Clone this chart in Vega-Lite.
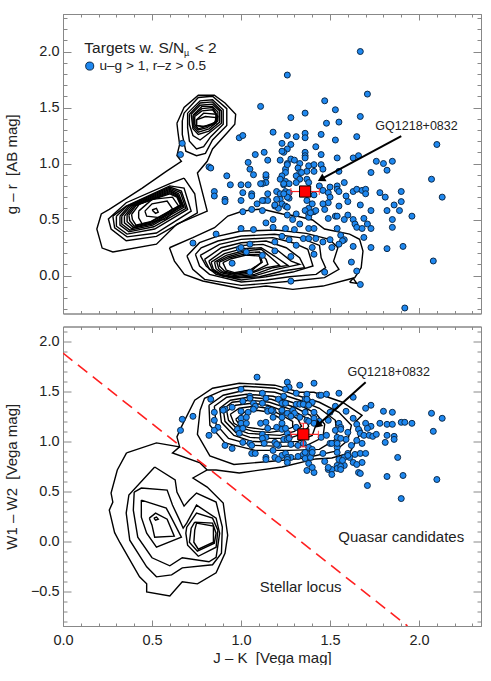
{"$schema":"https://vega.github.io/schema/vega-lite/v6.json","padding":{"left":4,"top":13,"right":0,"bottom":0},"spacing":11.5,"config":{"view":{"stroke":null},"font":"Liberation Sans","axis":{"grid":false,"domainColor":"#888888","tickColor":"#888888","domainWidth":1,"tickWidth":1,"labelFont":"Liberation Sans","titleFont":"Liberation Sans","labelFontSize":14.5,"titleFontSize":15,"labelColor":"#222222","titleColor":"#222222","titleFontWeight":"normal","labelOverlap":false,"labelFlush":false}},
"datasets":{
"topPts":[{"x":1.11,"y":1.51},{"x":1.18,"y":1.28},{"x":0.99,"y":1.23},{"x":1.01,"y":1.25},{"x":0.67,"y":1.18},{"x":0.66,"y":1.08},{"x":1.13,"y":1.10},{"x":1.08,"y":1.08},{"x":1.15,"y":1.03},{"x":1.04,"y":1.01},{"x":1.22,"y":1.03},{"x":1.05,"y":0.95},{"x":0.82,"y":0.97},{"x":0.83,"y":0.96},{"x":1.26,"y":1.79},{"x":1.67,"y":2.0},{"x":1.71,"y":1.62},{"x":1.47,"y":1.56},{"x":1.53,"y":1.48},{"x":1.36,"y":1.45},{"x":1.28,"y":1.41},{"x":1.67,"y":1.42},{"x":1.48,"y":1.36},{"x":1.55,"y":1.37},{"x":1.26,"y":1.25},{"x":1.31,"y":1.24},{"x":1.36,"y":1.27},{"x":1.36,"y":1.23},{"x":1.45,"y":1.26},{"x":1.65,"y":1.24},{"x":1.53,"y":1.21},{"x":1.23,"y":1.18},{"x":1.28,"y":1.17},{"x":2.10,"y":1.17},{"x":1.42,"y":1.15},{"x":1.26,"y":1.13},{"x":1.24,"y":1.10},{"x":1.36,"y":1.10},{"x":1.36,"y":1.07},{"x":1.45,"y":1.08},{"x":1.54,"y":1.05},{"x":1.63,"y":1.05},{"x":1.66,"y":1.07},{"x":1.28,"y":1.04},{"x":1.30,"y":1.03},{"x":1.36,"y":1.05},{"x":1.76,"y":1.02},{"x":1.80,"y":1.00},{"x":1.85,"y":1.02},{"x":1.26,"y":1.00},{"x":1.33,"y":1.00},{"x":1.38,"y":0.98},{"x":1.41,"y":0.99},{"x":1.45,"y":0.99},{"x":1.82,"y":0.94},{"x":1.73,"y":0.92},{"x":1.25,"y":0.95},{"x":1.32,"y":0.96},{"x":1.33,"y":0.92},{"x":1.37,"y":0.93},{"x":1.41,"y":0.93},{"x":1.46,"y":0.95},{"x":1.55,"y":0.93},{"x":1.25,"y":0.92},{"x":1.23,"y":0.89},{"x":1.14,"y":0.88},{"x":1.31,"y":0.89},{"x":1.33,"y":0.86},{"x":1.37,"y":0.86},{"x":1.22,"y":0.86},{"x":1.25,"y":0.84},{"x":1.14,"y":0.83},{"x":1.12,"y":0.82},{"x":1.27,"y":0.82},{"x":1.31,"y":0.83},{"x":1.38,"y":0.83},{"x":1.58,"y":0.83},{"x":2.07,"y":0.86},{"x":1.44,"y":0.80},{"x":1.50,"y":0.79},{"x":1.54,"y":0.80},{"x":1.54,"y":0.77},{"x":1.24,"y":0.81},{"x":1.20,"y":0.75},{"x":1.25,"y":0.75},{"x":1.46,"y":0.76},{"x":1.55,"y":0.75},{"x":1.63,"y":0.75},{"x":1.65,"y":0.77},{"x":1.68,"y":0.76},{"x":1.70,"y":0.77},{"x":1.70,"y":0.73},{"x":1.78,"y":0.74},{"x":1.81,"y":0.70},{"x":1.90,"y":0.75},{"x":1.49,"y":0.74},{"x":1.50,"y":0.70},{"x":1.59,"y":0.71},{"x":2.13,"y":0.70},{"x":1.41,"y":0.72},{"x":1.15,"y":0.73},{"x":1.22,"y":0.73},{"x":1.27,"y":0.74},{"x":1.27,"y":0.69},{"x":1.13,"y":0.67},{"x":1.15,"y":0.67},{"x":1.22,"y":0.68},{"x":1.37,"y":0.67},{"x":1.49,"y":0.65},{"x":1.46,"y":0.64},{"x":1.60,"y":0.66},{"x":1.67,"y":0.63},{"x":1.90,"y":0.66},{"x":1.86,"y":0.63},{"x":1.55,"y":0.62},{"x":1.19,"y":0.62},{"x":1.23,"y":0.64},{"x":1.21,"y":0.60},{"x":1.25,"y":0.62},{"x":1.38,"y":0.60},{"x":1.41,"y":0.57},{"x":1.36,"y":0.58},{"x":1.47,"y":0.59},{"x":1.73,"y":0.58},{"x":1.82,"y":0.58},{"x":1.89,"y":0.58},{"x":1.12,"y":0.58},{"x":1.26,"y":0.54},{"x":1.31,"y":0.55},{"x":1.40,"y":0.64},{"x":1.38,"y":0.55},{"x":1.38,"y":0.52},{"x":1.49,"y":0.51},{"x":1.53,"y":0.53},{"x":1.54,"y":0.53},{"x":1.60,"y":0.54},{"x":1.58,"y":0.50},{"x":1.69,"y":0.51},{"x":1.85,"y":0.50},{"x":1.96,"y":0.53},{"x":1.18,"y":0.50},{"x":1.29,"y":0.50},{"x":1.14,"y":0.47},{"x":1.33,"y":0.46},{"x":1.63,"y":0.50},{"x":1.64,"y":0.46},{"x":1.65,"y":0.43},{"x":1.68,"y":0.42},{"x":1.71,"y":0.46},{"x":1.73,"y":0.42},{"x":1.54,"y":0.42},{"x":1.85,"y":0.43},{"x":1.18,"y":0.43},{"x":1.38,"y":0.42},{"x":1.41,"y":0.42},{"x":1.25,"y":0.42},{"x":1.30,"y":0.41},{"x":1.56,"y":0.36},{"x":1.69,"y":0.34},{"x":1.23,"y":0.35},{"x":1.19,"y":0.30},{"x":1.27,"y":0.32},{"x":1.35,"y":0.33},{"x":1.38,"y":0.33},{"x":1.42,"y":0.33},{"x":1.46,"y":0.30},{"x":1.50,"y":0.32},{"x":1.58,"y":0.32},{"x":1.57,"y":0.31},{"x":1.55,"y":0.28},{"x":1.63,"y":0.26},{"x":1.31,"y":0.27},{"x":1.40,"y":0.25},{"x":1.51,"y":0.25},{"x":1.73,"y":0.25},{"x":1.82,"y":0.24},{"x":1.91,"y":0.26},{"x":1.19,"y":0.22},{"x":1.12,"y":0.18},{"x":1.28,"y":0.17},{"x":1.41,"y":0.19},{"x":1.62,"y":0.12},{"x":2.08,"y":0.13},{"x":1.65,"y":0.04},{"x":1.47,"y":0.03},{"x":1.28,"y":-0.05},{"x":1.67,"y":-0.08},{"x":1.92,"y":-0.29},{"x":1.07,"y":0.90},{"x":0.92,"y":0.89},{"x":1.11,"y":0.82},{"x":0.94,"y":0.81},{"x":1.00,"y":0.81},{"x":1.04,"y":0.81},{"x":0.85,"y":0.75},{"x":0.85,"y":0.71},{"x":0.91,"y":0.68},{"x":0.91,"y":0.66},{"x":1.01,"y":0.74},{"x":1.06,"y":0.73},{"x":1.06,"y":0.71},{"x":1.00,"y":0.67},{"x":1.12,"y":0.67},{"x":1.09,"y":0.64},{"x":1.01,"y":0.57},{"x":1.06,"y":0.59},{"x":1.00,"y":0.42},{"x":1.07,"y":0.41},{"x":0.86,"y":0.37},{"x":0.73,"y":0.29},{"x":1.05,"y":0.28},{"x":0.99,"y":0.24},{"x":1.00,"y":0.25},{"x":1.03,"y":0.21},{"x":0.95,"y":0.11},{"x":1.05,"y":0.03},{"x":1.23,"y":1.11},{"x":1.26,"y":0.99},{"x":1.14,"y":0.90},{"x":1.24,"y":0.82},{"x":1.34,"y":0.92},{"x":1.20,"y":0.68},{"x":1.19,"y":0.63},{"x":1.26,"y":0.61},{"x":1.42,"y":0.58},{"x":1.39,"y":0.56},{"x":1.26,"y":0.70},{"x":1.24,"y":0.73}],
"botPts":[{"x":1.09,"y":1.64},{"x":1.26,"y":1.59},{"x":1.33,"y":1.56},{"x":1.41,"y":1.58},{"x":1.00,"y":1.52},{"x":1.27,"y":1.54},{"x":1.25,"y":1.52},{"x":1.12,"y":1.48},{"x":1.14,"y":1.43},{"x":1.05,"y":1.45},{"x":1.05,"y":1.43},{"x":0.83,"y":1.42},{"x":1.01,"y":1.40},{"x":1.21,"y":1.42},{"x":1.24,"y":1.45},{"x":1.31,"y":1.48},{"x":1.37,"y":1.47},{"x":1.44,"y":1.46},{"x":1.36,"y":1.42},{"x":1.37,"y":1.42},{"x":1.40,"y":1.39},{"x":1.31,"y":1.37},{"x":1.33,"y":1.37},{"x":1.35,"y":1.37},{"x":1.23,"y":1.38},{"x":1.25,"y":1.38},{"x":1.12,"y":1.38},{"x":1.07,"y":1.38},{"x":1.08,"y":1.35},{"x":0.95,"y":1.34},{"x":0.91,"y":1.32},{"x":0.90,"y":1.31},{"x":0.85,"y":1.29},{"x":1.00,"y":1.30},{"x":1.04,"y":1.29},{"x":1.07,"y":1.32},{"x":1.15,"y":1.32},{"x":1.15,"y":1.30},{"x":1.18,"y":1.30},{"x":1.23,"y":1.30},{"x":1.26,"y":1.28},{"x":1.29,"y":1.31},{"x":1.30,"y":1.28},{"x":1.36,"y":1.29},{"x":1.41,"y":1.29},{"x":1.18,"y":1.24},{"x":1.23,"y":1.24},{"x":1.28,"y":1.25},{"x":1.33,"y":1.24},{"x":1.37,"y":1.21},{"x":1.41,"y":1.23},{"x":1.00,"y":1.23},{"x":1.03,"y":1.24},{"x":0.85,"y":1.21},{"x":0.67,"y":1.22},{"x":0.73,"y":1.25},{"x":1.00,"y":1.18},{"x":1.03,"y":1.18},{"x":1.11,"y":1.18},{"x":1.14,"y":1.19},{"x":1.23,"y":1.18},{"x":1.31,"y":1.14},{"x":0.87,"y":1.14},{"x":0.85,"y":1.11},{"x":0.66,"y":1.11},{"x":0.98,"y":1.12},{"x":0.99,"y":1.08},{"x":1.01,"y":1.13},{"x":1.15,"y":1.13},{"x":1.20,"y":1.14},{"x":1.23,"y":1.12},{"x":1.26,"y":1.08},{"x":1.12,"y":1.07},{"x":1.14,"y":1.04},{"x":1.12,"y":1.03},{"x":1.13,"y":0.98},{"x":0.82,"y":1.06},{"x":1.27,"y":1.04},{"x":1.24,"y":1.02},{"x":1.26,"y":1.02},{"x":1.01,"y":0.99},{"x":1.19,"y":0.99},{"x":1.21,"y":0.96},{"x":1.05,"y":0.98},{"x":1.06,"y":0.96},{"x":0.91,"y":0.96},{"x":0.95,"y":0.93},{"x":1.28,"y":0.97},{"x":1.32,"y":0.96},{"x":1.35,"y":0.98},{"x":1.38,"y":0.94},{"x":1.18,"y":0.91},{"x":1.40,"y":0.92},{"x":1.06,"y":0.88},{"x":1.08,"y":0.88},{"x":1.23,"y":0.86},{"x":1.25,"y":0.88},{"x":1.28,"y":0.84},{"x":1.14,"y":0.84},{"x":1.14,"y":0.82},{"x":1.19,"y":0.84},{"x":1.21,"y":0.82},{"x":1.26,"y":0.84},{"x":1.26,"y":0.82},{"x":1.26,"y":0.79},{"x":1.32,"y":0.85},{"x":1.35,"y":0.87},{"x":1.37,"y":0.88},{"x":1.36,"y":0.83},{"x":1.39,"y":0.84},{"x":1.38,"y":0.78},{"x":1.37,"y":0.71},{"x":1.41,"y":0.69},{"x":1.40,"y":0.74},{"x":1.55,"y":1.48},{"x":1.63,"y":1.44},{"x":1.45,"y":1.46},{"x":1.48,"y":1.47},{"x":1.73,"y":1.36},{"x":1.70,"y":1.33},{"x":1.80,"y":1.30},{"x":1.85,"y":1.29},{"x":2.07,"y":1.28},{"x":2.13,"y":1.23},{"x":1.59,"y":1.30},{"x":1.53,"y":1.35},{"x":1.50,"y":1.29},{"x":1.63,"y":1.23},{"x":1.78,"y":1.18},{"x":1.82,"y":1.17},{"x":1.85,"y":1.17},{"x":1.90,"y":1.19},{"x":1.92,"y":1.19},{"x":1.96,"y":1.18},{"x":1.65,"y":1.17},{"x":1.70,"y":1.18},{"x":1.73,"y":1.15},{"x":1.71,"y":1.13},{"x":2.08,"y":1.10},{"x":1.66,"y":1.12},{"x":1.67,"y":1.08},{"x":1.60,"y":1.09},{"x":1.69,"y":1.06},{"x":1.72,"y":1.06},{"x":1.74,"y":1.05},{"x":1.76,"y":1.07},{"x":1.82,"y":1.06},{"x":1.86,"y":1.05},{"x":1.86,"y":1.02},{"x":1.81,"y":0.99},{"x":1.55,"y":1.18},{"x":1.56,"y":1.14},{"x":1.53,"y":1.11},{"x":1.56,"y":1.12},{"x":1.45,"y":1.04},{"x":1.48,"y":1.06},{"x":1.59,"y":1.02},{"x":1.54,"y":1.04},{"x":1.56,"y":1.03},{"x":1.54,"y":0.94},{"x":1.54,"y":0.89},{"x":1.50,"y":0.98},{"x":1.51,"y":0.98},{"x":1.65,"y":1.01},{"x":1.68,"y":0.98},{"x":1.62,"y":0.96},{"x":1.46,"y":0.88},{"x":1.88,"y":0.84},{"x":1.60,"y":0.88},{"x":1.64,"y":0.87},{"x":1.67,"y":0.88},{"x":1.70,"y":0.88},{"x":1.58,"y":0.84},{"x":1.55,"y":0.82},{"x":1.61,"y":0.84},{"x":1.47,"y":0.80},{"x":1.68,"y":0.79},{"x":1.63,"y":0.79},{"x":1.65,"y":0.77},{"x":1.58,"y":0.76},{"x":1.54,"y":0.76},{"x":1.54,"y":0.73},{"x":1.49,"y":0.72},{"x":1.51,"y":0.72},{"x":1.66,"y":0.69},{"x":1.67,"y":0.68},{"x":1.51,"y":0.67},{"x":1.82,"y":0.65},{"x":1.91,"y":0.66},{"x":2.10,"y":0.62},{"x":1.71,"y":0.56},{"x":1.90,"y":0.43},{"x":1.38,"y":1.36},{"x":1.17,"y":1.31},{"x":1.44,"y":1.20},{"x":1.38,"y":1.20},{"x":1.41,"y":1.18},{"x":1.49,"y":1.21},{"x":1.54,"y":0.98},{"x":1.36,"y":0.89},{"x":1.40,"y":0.89},{"x":1.60,"y":0.86},{"x":1.57,"y":0.81},{"x":1.49,"y":0.74},{"x":1.56,"y":0.75},{"x":1.56,"y":0.72},{"x":1.20,"y":0.97},{"x":1.27,"y":1.03},{"x":1.25,"y":1.13},{"x":1.23,"y":1.31}],
"topCont":[
{"c":"AB","x":0.64,"y":1.36},{"c":"AB","x":0.68,"y":1.50},{"c":"AB","x":0.76,"y":1.61},{"c":"AB","x":0.85,"y":1.61},{"c":"AB","x":0.91,"y":1.54},{"c":"AB","x":0.97,"y":1.44},{"c":"AB","x":0.965,"y":1.35},{"c":"AB","x":0.92,"y":1.27},{"c":"AB","x":0.84,"y":1.13},{"c":"AB","x":0.81,"y":1.02},{"c":"AB","x":0.755,"y":0.915},{"c":"AB","x":0.81,"y":0.575},{"c":"AB","x":0.64,"y":0.46},{"c":"AB","x":0.525,"y":0.28},{"c":"AB","x":0.28,"y":0.21},{"c":"AB","x":0.22,"y":0.245},{"c":"AB","x":0.19,"y":0.415},{"c":"AB","x":0.215,"y":0.55},{"c":"AB","x":0.26,"y":0.59},{"c":"AB","x":0.445,"y":0.78},{"c":"AB","x":0.58,"y":0.93},{"c":"AB","x":0.665,"y":1.02},{"c":"AB","x":0.64,"y":1.07},{"c":"AB","x":0.655,"y":1.17},{"c":"AB","x":0.645,"y":1.29},{"c":"AB","x":0.64,"y":1.36},
{"c":"A2","x":0.68,"y":1.45},{"c":"A2","x":0.76,"y":1.59},{"c":"A2","x":0.84,"y":1.60},{"c":"A2","x":0.92,"y":1.49},{"c":"A2","x":0.92,"y":1.34},{"c":"A2","x":0.84,"y":1.21},{"c":"A2","x":0.80,"y":1.09},{"c":"A2","x":0.75,"y":1.07},{"c":"A2","x":0.69,"y":1.11},{"c":"A2","x":0.67,"y":1.26},{"c":"A2","x":0.67,"y":1.38},{"c":"A2","x":0.68,"y":1.45},
{"c":"A3","x":0.70,"y":1.45},{"c":"A3","x":0.77,"y":1.56},{"c":"A3","x":0.84,"y":1.57},{"c":"A3","x":0.90,"y":1.48},{"c":"A3","x":0.90,"y":1.35},{"c":"A3","x":0.83,"y":1.24},{"c":"A3","x":0.79,"y":1.15},{"c":"A3","x":0.75,"y":1.13},{"c":"A3","x":0.71,"y":1.20},{"c":"A3","x":0.70,"y":1.32},{"c":"A3","x":0.70,"y":1.45},
{"c":"A4","x":0.71,"y":1.44},{"c":"A4","x":0.77,"y":1.54},{"c":"A4","x":0.84,"y":1.55},{"c":"A4","x":0.89,"y":1.47},{"c":"A4","x":0.89,"y":1.36},{"c":"A4","x":0.82,"y":1.27},{"c":"A4","x":0.77,"y":1.21},{"c":"A4","x":0.73,"y":1.25},{"c":"A4","x":0.71,"y":1.35},{"c":"A4","x":0.71,"y":1.44},
{"c":"A5","x":0.72,"y":1.44},{"c":"A5","x":0.77,"y":1.52},{"c":"A5","x":0.84,"y":1.53},{"c":"A5","x":0.88,"y":1.47},{"c":"A5","x":0.88,"y":1.37},{"c":"A5","x":0.82,"y":1.29},{"c":"A5","x":0.76,"y":1.26},{"c":"A5","x":0.73,"y":1.31},{"c":"A5","x":0.72,"y":1.44},
{"c":"A6","x":0.73,"y":1.43},{"c":"A6","x":0.78,"y":1.51},{"c":"A6","x":0.84,"y":1.51},{"c":"A6","x":0.87,"y":1.46},{"c":"A6","x":0.87,"y":1.38},{"c":"A6","x":0.82,"y":1.31},{"c":"A6","x":0.76,"y":1.28},{"c":"A6","x":0.73,"y":1.33},{"c":"A6","x":0.73,"y":1.43},
{"c":"A7","x":0.735,"y":1.43},{"c":"A7","x":0.78,"y":1.49},{"c":"A7","x":0.84,"y":1.50},{"c":"A7","x":0.86,"y":1.45},{"c":"A7","x":0.86,"y":1.38},{"c":"A7","x":0.81,"y":1.32},{"c":"A7","x":0.76,"y":1.30},{"c":"A7","x":0.735,"y":1.34},{"c":"A7","x":0.735,"y":1.43},
{"c":"A8","x":0.74,"y":1.42},{"c":"A8","x":0.78,"y":1.47},{"c":"A8","x":0.84,"y":1.48},{"c":"A8","x":0.87,"y":1.42},{"c":"A8","x":0.86,"y":1.36},{"c":"A8","x":0.80,"y":1.33},{"c":"A8","x":0.76,"y":1.31},{"c":"A8","x":0.74,"y":1.35},{"c":"A8","x":0.74,"y":1.42},
{"c":"A9","x":0.75,"y":1.39},{"c":"A9","x":0.79,"y":1.45},{"c":"A9","x":0.86,"y":1.44},{"c":"A9","x":0.86,"y":1.37},{"c":"A9","x":0.79,"y":1.33},{"c":"A9","x":0.75,"y":1.34},{"c":"A9","x":0.75,"y":1.39},
{"c":"A10","x":0.75,"y":1.39},{"c":"A10","x":0.80,"y":1.42},{"c":"A10","x":0.86,"y":1.41},{"c":"A10","x":0.85,"y":1.35},{"c":"A10","x":0.78,"y":1.33},{"c":"A10","x":0.75,"y":1.34},{"c":"A10","x":0.75,"y":1.39},
{"c":"B2","x":0.68,"y":0.87},{"c":"B2","x":0.74,"y":0.73},{"c":"B2","x":0.755,"y":0.56},{"c":"B2","x":0.525,"y":0.35},{"c":"B2","x":0.355,"y":0.31},{"c":"B2","x":0.27,"y":0.415},{"c":"B2","x":0.255,"y":0.505},{"c":"B2","x":0.355,"y":0.65},{"c":"B2","x":0.60,"y":0.82},{"c":"B2","x":0.68,"y":0.87},
{"c":"B3","x":0.28,"y":0.53},{"c":"B3","x":0.355,"y":0.62},{"c":"B3","x":0.60,"y":0.80},{"c":"B3","x":0.68,"y":0.78},{"c":"B3","x":0.72,"y":0.575},{"c":"B3","x":0.525,"y":0.38},{"c":"B3","x":0.36,"y":0.345},{"c":"B3","x":0.29,"y":0.425},{"c":"B3","x":0.28,"y":0.53},
{"c":"B4","x":0.30,"y":0.53},{"c":"B4","x":0.36,"y":0.62},{"c":"B4","x":0.60,"y":0.79},{"c":"B4","x":0.665,"y":0.755},{"c":"B4","x":0.70,"y":0.59},{"c":"B4","x":0.515,"y":0.415},{"c":"B4","x":0.36,"y":0.37},{"c":"B4","x":0.30,"y":0.44},{"c":"B4","x":0.30,"y":0.53},
{"c":"B5","x":0.32,"y":0.53},{"c":"B5","x":0.37,"y":0.62},{"c":"B5","x":0.60,"y":0.78},{"c":"B5","x":0.66,"y":0.74},{"c":"B5","x":0.69,"y":0.60},{"c":"B5","x":0.51,"y":0.435},{"c":"B5","x":0.37,"y":0.39},{"c":"B5","x":0.32,"y":0.45},{"c":"B5","x":0.32,"y":0.53},
{"c":"B6","x":0.33,"y":0.53},{"c":"B6","x":0.38,"y":0.62},{"c":"B6","x":0.60,"y":0.77},{"c":"B6","x":0.65,"y":0.73},{"c":"B6","x":0.68,"y":0.61},{"c":"B6","x":0.505,"y":0.45},{"c":"B6","x":0.375,"y":0.405},{"c":"B6","x":0.33,"y":0.46},{"c":"B6","x":0.33,"y":0.53},
{"c":"B7","x":0.345,"y":0.53},{"c":"B7","x":0.39,"y":0.62},{"c":"B7","x":0.60,"y":0.76},{"c":"B7","x":0.645,"y":0.72},{"c":"B7","x":0.675,"y":0.62},{"c":"B7","x":0.50,"y":0.46},{"c":"B7","x":0.385,"y":0.42},{"c":"B7","x":0.345,"y":0.47},{"c":"B7","x":0.345,"y":0.53},
{"c":"B8","x":0.36,"y":0.54},{"c":"B8","x":0.40,"y":0.62},{"c":"B8","x":0.60,"y":0.75},{"c":"B8","x":0.64,"y":0.72},{"c":"B8","x":0.67,"y":0.625},{"c":"B8","x":0.50,"y":0.47},{"c":"B8","x":0.395,"y":0.43},{"c":"B8","x":0.36,"y":0.48},{"c":"B8","x":0.36,"y":0.54},
{"c":"B9","x":0.37,"y":0.54},{"c":"B9","x":0.41,"y":0.625},{"c":"B9","x":0.60,"y":0.74},{"c":"B9","x":0.64,"y":0.71},{"c":"B9","x":0.665,"y":0.63},{"c":"B9","x":0.49,"y":0.475},{"c":"B9","x":0.40,"y":0.44},{"c":"B9","x":0.375,"y":0.49},{"c":"B9","x":0.37,"y":0.54},
{"c":"B10","x":0.385,"y":0.545},{"c":"B10","x":0.43,"y":0.64},{"c":"B10","x":0.60,"y":0.73},{"c":"B10","x":0.64,"y":0.70},{"c":"B10","x":0.66,"y":0.63},{"c":"B10","x":0.49,"y":0.48},{"c":"B10","x":0.41,"y":0.45},{"c":"B10","x":0.39,"y":0.50},{"c":"B10","x":0.385,"y":0.545},
{"c":"C2","x":0.425,"y":0.575},{"c":"C2","x":0.50,"y":0.68},{"c":"C2","x":0.615,"y":0.70},{"c":"C2","x":0.65,"y":0.62},{"c":"C2","x":0.58,"y":0.505},{"c":"C2","x":0.445,"y":0.46},{"c":"C2","x":0.425,"y":0.515},{"c":"C2","x":0.425,"y":0.575},
{"c":"C1","x":0.46,"y":0.575},{"c":"C1","x":0.50,"y":0.64},{"c":"C1","x":0.585,"y":0.665},{"c":"C1","x":0.615,"y":0.595},{"c":"C1","x":0.555,"y":0.515},{"c":"C1","x":0.47,"y":0.53},{"c":"C1","x":0.46,"y":0.575},
{"c":"C0","x":0.50,"y":0.585},{"c":"C0","x":0.525,"y":0.60},{"c":"C0","x":0.535,"y":0.565},{"c":"C0","x":0.52,"y":0.555},{"c":"C0","x":0.50,"y":0.585},
{"c":"L1","x":0.598,"y":0.248},{"c":"L1","x":0.729,"y":0.338},{"c":"L1","x":0.851,"y":0.427},{"c":"L1","x":0.926,"y":0.531},{"c":"L1","x":1.01,"y":0.576},{"c":"L1","x":1.115,"y":0.594},{"c":"L1","x":1.233,"y":0.549},{"c":"L1","x":1.312,"y":0.531},{"c":"L1","x":1.402,"y":0.496},{"c":"L1","x":1.469,"y":0.415},{"c":"L1","x":1.61,"y":0.37},{"c":"L1","x":1.666,"y":0.323},{"c":"L1","x":1.685,"y":0.219},{"c":"L1","x":1.675,"y":0.07},{"c":"L1","x":1.638,"y":-0.02},{"c":"L1","x":1.46,"y":-0.094},{"c":"L1","x":1.291,"y":-0.124},{"c":"L1","x":1.141,"y":-0.094},{"c":"L1","x":1.001,"y":-0.118},{"c":"L1","x":0.785,"y":-0.049},{"c":"L1","x":0.682,"y":0.01},{"c":"L1","x":0.626,"y":0.129},{"c":"L1","x":0.598,"y":0.248},
{"c":"T","x":1.61,"y":-0.06},{"c":"T","x":1.63,"y":-0.025},{"c":"T","x":1.65,"y":-0.07},{"c":"T","x":1.61,"y":-0.06},
{"c":"L2","x":0.696,"y":0.174},{"c":"L2","x":0.767,"y":0.293},{"c":"L2","x":0.86,"y":0.347},{"c":"L2","x":1.001,"y":0.397},{"c":"L2","x":1.198,"y":0.406},{"c":"L2","x":1.366,"y":0.376},{"c":"L2","x":1.497,"y":0.323},{"c":"L2","x":1.544,"y":0.248},{"c":"L2","x":1.52,"y":0.129},{"c":"L2","x":1.55,"y":0.055},{"c":"L2","x":1.469,"y":-0.019},{"c":"L2","x":1.291,"y":-0.049},{"c":"L2","x":1.141,"y":-0.07},{"c":"L2","x":1.001,"y":-0.088},{"c":"L2","x":0.795,"y":-0.034},{"c":"L2","x":0.729,"y":0.055},{"c":"L2","x":0.696,"y":0.174},
{"c":"L3","x":0.744,"y":0.189},{"c":"L3","x":0.776,"y":0.248},{"c":"L3","x":0.87,"y":0.308},{"c":"L3","x":1.001,"y":0.353},{"c":"L3","x":1.188,"y":0.368},{"c":"L3","x":1.329,"y":0.338},{"c":"L3","x":1.441,"y":0.269},{"c":"L3","x":1.45,"y":0.159},{"c":"L3","x":1.475,"y":0.07},{"c":"L3","x":1.422,"y":0.01},{"c":"L3","x":1.272,"y":-0.011},{"c":"L3","x":1.141,"y":-0.04},{"c":"L3","x":1.001,"y":-0.058},{"c":"L3","x":0.823,"y":0.01},{"c":"L3","x":0.767,"y":0.085},{"c":"L3","x":0.744,"y":0.189},
{"c":"L4","x":0.771,"y":0.18},{"c":"L4","x":0.879,"y":0.278},{"c":"L4","x":1.001,"y":0.323},{"c":"L4","x":1.179,"y":0.338},{"c":"L4","x":1.291,"y":0.293},{"c":"L4","x":1.375,"y":0.234},{"c":"L4","x":1.404,"y":0.085},{"c":"L4","x":1.291,"y":0.031},{"c":"L4","x":1.141,"y":-0.011},{"c":"L4","x":1.001,"y":-0.04},{"c":"L4","x":0.86,"y":0.01},{"c":"L4","x":0.804,"y":0.085},{"c":"L4","x":0.771,"y":0.18},
{"c":"L5","x":0.795,"y":0.144},{"c":"L5","x":0.889,"y":0.248},{"c":"L5","x":1.001,"y":0.293},{"c":"L5","x":1.141,"y":0.308},{"c":"L5","x":1.254,"y":0.248},{"c":"L5","x":1.329,"y":0.159},{"c":"L5","x":1.357,"y":0.07},{"c":"L5","x":1.235,"y":0.04},{"c":"L5","x":1.104,"y":-0.011},{"c":"L5","x":0.992,"y":-0.02},{"c":"L5","x":0.898,"y":-0.005},{"c":"L5","x":0.823,"y":0.055},{"c":"L5","x":0.795,"y":0.144},
{"c":"L6","x":0.819,"y":0.129},{"c":"L6","x":0.898,"y":0.219},{"c":"L6","x":1.01,"y":0.269},{"c":"L6","x":1.123,"y":0.278},{"c":"L6","x":1.198,"y":0.234},{"c":"L6","x":1.282,"y":0.129},{"c":"L6","x":1.329,"y":0.1},{"c":"L6","x":1.198,"y":0.055},{"c":"L6","x":1.085,"y":0.001},{"c":"L6","x":0.973,"y":-0.02},{"c":"L6","x":0.889,"y":0.001},{"c":"L6","x":0.838,"y":0.055},{"c":"L6","x":0.819,"y":0.129},
{"c":"L7","x":0.832,"y":0.12},{"c":"L7","x":0.907,"y":0.195},{"c":"L7","x":1.01,"y":0.24},{"c":"L7","x":1.113,"y":0.248},{"c":"L7","x":1.188,"y":0.174},{"c":"L7","x":1.263,"y":0.091},{"c":"L7","x":1.179,"y":0.07},{"c":"L7","x":1.076,"y":0.01},{"c":"L7","x":0.963,"y":-0.011},{"c":"L7","x":0.889,"y":0.01},{"c":"L7","x":0.845,"y":0.055},{"c":"L7","x":0.832,"y":0.12},
{"c":"L8","x":0.851,"y":0.12},{"c":"L8","x":0.917,"y":0.18},{"c":"L8","x":1.01,"y":0.219},{"c":"L8","x":1.113,"y":0.234},{"c":"L8","x":1.169,"y":0.159},{"c":"L8","x":1.216,"y":0.091},{"c":"L8","x":1.141,"y":0.07},{"c":"L8","x":1.066,"y":0.025},{"c":"L8","x":0.963,"y":0.001},{"c":"L8","x":0.889,"y":0.025},{"c":"L8","x":0.86,"y":0.061},{"c":"L8","x":0.851,"y":0.12},
{"c":"L9","x":0.864,"y":0.12},{"c":"L9","x":0.926,"y":0.168},{"c":"L9","x":1.01,"y":0.204},{"c":"L9","x":1.104,"y":0.21},{"c":"L9","x":1.141,"y":0.144},{"c":"L9","x":1.151,"y":0.1},{"c":"L9","x":1.076,"y":0.04},{"c":"L9","x":0.963,"y":0.01},{"c":"L9","x":0.898,"y":0.031},{"c":"L9","x":0.875,"y":0.061},{"c":"L9","x":0.864,"y":0.12},
{"c":"L10","x":0.879,"y":0.12},{"c":"L10","x":0.935,"y":0.159},{"c":"L10","x":1.01,"y":0.189},{"c":"L10","x":1.1,"y":0.189},{"c":"L10","x":1.113,"y":0.115},{"c":"L10","x":1.057,"y":0.04},{"c":"L10","x":0.963,"y":0.016},{"c":"L10","x":0.907,"y":0.04},{"c":"L10","x":0.879,"y":0.085},{"c":"L10","x":0.879,"y":0.12},
{"c":"L11","x":0.898,"y":0.115},{"c":"L11","x":0.945,"y":0.15},{"c":"L11","x":1.029,"y":0.183},{"c":"L11","x":1.108,"y":0.174},{"c":"L11","x":1.119,"y":0.12},{"c":"L11","x":1.051,"y":0.049},{"c":"L11","x":0.963,"y":0.025},{"c":"L11","x":0.917,"y":0.049},{"c":"L11","x":0.898,"y":0.115}],
"botCont":[
{"c":"O","x":0.357,"y":0.885},{"c":"O","x":0.525,"y":0.985},{"c":"O","x":0.655,"y":0.945},{"c":"O","x":0.64,"y":1.045},{"c":"O","x":0.665,"y":1.145},{"c":"O","x":0.74,"y":1.41},{"c":"O","x":0.84,"y":1.53},{"c":"O","x":0.99,"y":1.58},{"c":"O","x":1.19,"y":1.56},{"c":"O","x":1.33,"y":1.49},{"c":"O","x":1.41,"y":1.49},{"c":"O","x":1.57,"y":1.39},{"c":"O","x":1.68,"y":1.26},{"c":"O","x":1.64,"y":1.19},{"c":"O","x":1.68,"y":1.11},{"c":"O","x":1.61,"y":0.885},{"c":"O","x":1.51,"y":0.835},{"c":"O","x":1.42,"y":0.825},{"c":"O","x":1.23,"y":0.745},{"c":"O","x":0.99,"y":0.685},{"c":"O","x":0.86,"y":0.715},{"c":"O","x":0.81,"y":0.715},{"c":"O","x":0.73,"y":0.635},{"c":"O","x":0.81,"y":0.545},{"c":"O","x":0.90,"y":0.385},{"c":"O","x":0.925,"y":0.065},{"c":"O","x":0.91,"y":-0.115},{"c":"O","x":0.86,"y":-0.31},{"c":"O","x":0.755,"y":-0.42},{"c":"O","x":0.67,"y":-0.40},{"c":"O","x":0.60,"y":-0.54},{"c":"O","x":0.47,"y":-0.50},{"c":"O","x":0.47,"y":-0.42},{"c":"O","x":0.43,"y":-0.35},{"c":"O","x":0.32,"y":-0.01},{"c":"O","x":0.29,"y":0.09},{"c":"O","x":0.26,"y":0.315},{"c":"O","x":0.28,"y":0.395},{"c":"O","x":0.27,"y":0.485},{"c":"O","x":0.305,"y":0.715},{"c":"O","x":0.357,"y":0.885},
{"c":"S","x":0.655,"y":0.945},{"c":"S","x":0.615,"y":0.885},{"c":"S","x":0.77,"y":0.785},{"c":"S","x":0.81,"y":0.715},
{"c":"F2","x":0.515,"y":0.745},{"c":"F2","x":0.63,"y":0.615},{"c":"F2","x":0.64,"y":0.495},{"c":"F2","x":0.68,"y":0.355},{"c":"F2","x":0.71,"y":0.415},{"c":"F2","x":0.75,"y":0.485},{"c":"F2","x":0.86,"y":0.395},{"c":"F2","x":0.895,"y":0.145},{"c":"F2","x":0.89,"y":-0.115},{"c":"F2","x":0.84,"y":-0.23},{"c":"F2","x":0.67,"y":-0.26},{"c":"F2","x":0.61,"y":-0.33},{"c":"F2","x":0.525,"y":-0.35},{"c":"F2","x":0.47,"y":-0.25},{"c":"F2","x":0.375,"y":0.015},{"c":"F2","x":0.355,"y":0.285},{"c":"F2","x":0.37,"y":0.465},{"c":"F2","x":0.515,"y":0.745},
{"c":"F3","x":0.40,"y":0.495},{"c":"F3","x":0.44,"y":0.535},{"c":"F3","x":0.585,"y":0.515},{"c":"F3","x":0.615,"y":0.365},{"c":"F3","x":0.655,"y":0.215},{"c":"F3","x":0.675,"y":0.135},{"c":"F3","x":0.695,"y":0.185},{"c":"F3","x":0.75,"y":0.365},{"c":"F3","x":0.86,"y":0.235},{"c":"F3","x":0.88,"y":0.085},{"c":"F3","x":0.86,"y":-0.155},{"c":"F3","x":0.82,"y":-0.20},{"c":"F3","x":0.67,"y":-0.16},{"c":"F3","x":0.60,"y":-0.24},{"c":"F3","x":0.50,"y":-0.16},{"c":"F3","x":0.42,"y":0.045},{"c":"F3","x":0.395,"y":0.315},{"c":"F3","x":0.40,"y":0.495},
{"c":"F4","x":0.44,"y":0.415},{"c":"F4","x":0.58,"y":0.335},{"c":"F4","x":0.61,"y":0.235},{"c":"F4","x":0.665,"y":0.045},{"c":"F4","x":0.525,"y":-0.055},{"c":"F4","x":0.47,"y":0.085},{"c":"F4","x":0.44,"y":0.245},{"c":"F4","x":0.44,"y":0.415},
{"c":"F5","x":0.485,"y":0.235},{"c":"F5","x":0.52,"y":0.285},{"c":"F5","x":0.585,"y":0.225},{"c":"F5","x":0.625,"y":0.055},{"c":"F5","x":0.515,"y":0.045},{"c":"F5","x":0.50,"y":0.165},{"c":"F5","x":0.485,"y":0.235},
{"c":"F6","x":0.51,"y":0.235},{"c":"F6","x":0.525,"y":0.245},{"c":"F6","x":0.535,"y":0.225},{"c":"F6","x":0.52,"y":0.215},{"c":"F6","x":0.51,"y":0.235},
{"c":"G2","x":0.695,"y":0.145},{"c":"G2","x":0.75,"y":0.285},{"c":"G2","x":0.84,"y":0.235},{"c":"G2","x":0.87,"y":0.115},{"c":"G2","x":0.86,"y":-0.055},{"c":"G2","x":0.76,"y":-0.145},{"c":"G2","x":0.70,"y":-0.035},{"c":"G2","x":0.69,"y":0.085},{"c":"G2","x":0.695,"y":0.145},
{"c":"G3","x":0.74,"y":0.195},{"c":"G3","x":0.84,"y":0.185},{"c":"G3","x":0.86,"y":0.085},{"c":"G3","x":0.85,"y":-0.015},{"c":"G3","x":0.755,"y":-0.095},{"c":"G3","x":0.71,"y":-0.005},{"c":"G3","x":0.72,"y":0.135},{"c":"G3","x":0.74,"y":0.195},
{"c":"G4","x":0.75,"y":0.185},{"c":"G4","x":0.845,"y":0.155},{"c":"G4","x":0.845,"y":-0.005},{"c":"G4","x":0.76,"y":-0.075},{"c":"G4","x":0.735,"y":-0.005},{"c":"G4","x":0.74,"y":0.115},{"c":"G4","x":0.75,"y":0.185},
{"c":"E2","x":0.77,"y":1.31},{"c":"E2","x":0.795,"y":1.43},{"c":"E2","x":0.90,"y":1.51},{"c":"E2","x":1.02,"y":1.55},{"c":"E2","x":1.19,"y":1.53},{"c":"E2","x":1.33,"y":1.45},{"c":"E2","x":1.44,"y":1.39},{"c":"E2","x":1.55,"y":1.29},{"c":"E2","x":1.62,"y":1.16},{"c":"E2","x":1.60,"y":1.01},{"c":"E2","x":1.525,"y":0.90},{"c":"E2","x":1.36,"y":0.835},{"c":"E2","x":1.16,"y":0.80},{"c":"E2","x":0.96,"y":0.77},{"c":"E2","x":0.825,"y":0.855},{"c":"E2","x":0.755,"y":1.07},{"c":"E2","x":0.77,"y":1.31},
{"c":"E3","x":0.82,"y":1.36},{"c":"E3","x":0.90,"y":1.46},{"c":"E3","x":1.02,"y":1.51},{"c":"E3","x":1.19,"y":1.49},{"c":"E3","x":1.33,"y":1.41},{"c":"E3","x":1.44,"y":1.33},{"c":"E3","x":1.53,"y":1.21},{"c":"E3","x":1.54,"y":1.03},{"c":"E3","x":1.44,"y":0.92},{"c":"E3","x":1.27,"y":0.91},{"c":"E3","x":1.08,"y":0.91},{"c":"E3","x":0.91,"y":0.985},{"c":"E3","x":0.825,"y":1.16},{"c":"E3","x":0.82,"y":1.36},
{"c":"E4","x":0.85,"y":1.35},{"c":"E4","x":0.92,"y":1.44},{"c":"E4","x":1.03,"y":1.47},{"c":"E4","x":1.18,"y":1.45},{"c":"E4","x":1.32,"y":1.37},{"c":"E4","x":1.42,"y":1.28},{"c":"E4","x":1.47,"y":1.17},{"c":"E4","x":1.46,"y":1.04},{"c":"E4","x":1.37,"y":0.96},{"c":"E4","x":1.23,"y":0.95},{"c":"E4","x":1.07,"y":0.96},{"c":"E4","x":0.93,"y":1.03},{"c":"E4","x":0.86,"y":1.17},{"c":"E4","x":0.85,"y":1.35},
{"c":"E5","x":0.88,"y":1.33},{"c":"E5","x":0.94,"y":1.41},{"c":"E5","x":1.04,"y":1.44},{"c":"E5","x":1.17,"y":1.42},{"c":"E5","x":1.30,"y":1.34},{"c":"E5","x":1.39,"y":1.26},{"c":"E5","x":1.42,"y":1.16},{"c":"E5","x":1.40,"y":1.06},{"c":"E5","x":1.32,"y":1.00},{"c":"E5","x":1.20,"y":0.99},{"c":"E5","x":1.06,"y":1.00},{"c":"E5","x":0.96,"y":1.06},{"c":"E5","x":0.89,"y":1.19},{"c":"E5","x":0.88,"y":1.33},
{"c":"E6","x":0.90,"y":1.32},{"c":"E6","x":0.95,"y":1.39},{"c":"E6","x":1.05,"y":1.41},{"c":"E6","x":1.16,"y":1.39},{"c":"E6","x":1.28,"y":1.32},{"c":"E6","x":1.36,"y":1.24},{"c":"E6","x":1.38,"y":1.15},{"c":"E6","x":1.35,"y":1.08},{"c":"E6","x":1.27,"y":1.03},{"c":"E6","x":1.16,"y":1.03},{"c":"E6","x":1.05,"y":1.04},{"c":"E6","x":0.97,"y":1.09},{"c":"E6","x":0.91,"y":1.20},{"c":"E6","x":0.90,"y":1.32},
{"c":"E7","x":0.92,"y":1.30},{"c":"E7","x":0.97,"y":1.36},{"c":"E7","x":1.06,"y":1.38},{"c":"E7","x":1.15,"y":1.36},{"c":"E7","x":1.26,"y":1.29},{"c":"E7","x":1.32,"y":1.22},{"c":"E7","x":1.34,"y":1.15},{"c":"E7","x":1.30,"y":1.10},{"c":"E7","x":1.22,"y":1.06},{"c":"E7","x":1.12,"y":1.07},{"c":"E7","x":1.04,"y":1.08},{"c":"E7","x":0.98,"y":1.12},{"c":"E7","x":0.93,"y":1.21},{"c":"E7","x":0.92,"y":1.30},
{"c":"E8","x":0.94,"y":1.27},{"c":"E8","x":0.99,"y":1.33},{"c":"E8","x":1.07,"y":1.35},{"c":"E8","x":1.15,"y":1.33},{"c":"E8","x":1.23,"y":1.26},{"c":"E8","x":1.29,"y":1.20},{"c":"E8","x":1.29,"y":1.14},{"c":"E8","x":1.24,"y":1.11},{"c":"E8","x":1.16,"y":1.09},{"c":"E8","x":1.07,"y":1.10},{"c":"E8","x":1.01,"y":1.13},{"c":"E8","x":0.96,"y":1.18},{"c":"E8","x":0.94,"y":1.27},
{"c":"E9","x":0.97,"y":1.22},{"c":"E9","x":1.02,"y":1.29},{"c":"E9","x":1.09,"y":1.31},{"c":"E9","x":1.16,"y":1.29},{"c":"E9","x":1.22,"y":1.23},{"c":"E9","x":1.24,"y":1.17},{"c":"E9","x":1.20,"y":1.13},{"c":"E9","x":1.12,"y":1.12},{"c":"E9","x":1.04,"y":1.14},{"c":"E9","x":0.99,"y":1.17},{"c":"E9","x":0.97,"y":1.22}]
},
"vconcat":[
{"width":418,"height":299.5,"resolve":{"axis":{"x":"independent","y":"independent"}},"layer":[
{"data":{"name":"topCont"},"mark":{"type":"line","stroke":"#000000","strokeWidth":1.4,"clip":true},"encoding":{"x":{"field":"x","type":"quantitative","scale":{"domain":[0,2.348],"nice":false,"zero":false},"axis":{"orient":"bottom","values":[0,0.5,1,1.5,2],"tickSize":-6,"labels":false,"title":null}},"y":{"field":"y","type":"quantitative","scale":{"domain":[-0.339,2.335],"nice":false,"zero":false},"axis":{"orient":"left","values":[0,0.5,1,1.5,2],"tickSize":-8,"labelPadding":12,"format":".1f","title":"g – r\u00a0\u00a0[AB mag]","minExtent":40,"maxExtent":40,"titlePadding":3.5}},"detail":{"field":"c"},"order":{"value":null}}},
{"data":{"name":"topPts"},"mark":{"type":"point","shape":"circle","filled":true,"fill":"#1e88f0","fillOpacity":1,"stroke":"#0c2a4a","strokeWidth":1,"size":36},"encoding":{"x":{"field":"x","type":"quantitative","axis":{"orient":"top","values":[0,0.5,1,1.5,2],"tickSize":-6,"labels":false,"title":null}},"y":{"field":"y","type":"quantitative","axis":{"orient":"right","values":[0,0.5,1,1.5,2],"tickSize":-8,"labels":false,"title":null}}}},
{"data":{"values":[{"x":0.15,"y":1.87}]},"mark":{"type":"point","shape":"circle","filled":true,"fill":"#1e88f0","fillOpacity":1,"stroke":"#0c2a4a","strokeWidth":1,"size":65},"encoding":{"x":{"field":"x","type":"quantitative","axis":null},"y":{"field":"y","type":"quantitative","axis":null}}},
{"data":{"values":[{"x":1.90,"y":1.245},{"x":1.45,"y":0.86}]},"mark":{"type":"line","stroke":"#000000","strokeWidth":2},"encoding":{"x":{"field":"x","type":"quantitative","axis":{"orient":"bottom","values":[0.1,0.2,0.3,0.4,0.6,0.7,0.8,0.9,1.1,1.2,1.3,1.4,1.6,1.7,1.8,1.9,2.1,2.2,2.3],"tickSize":-3,"labels":false,"title":null}},"y":{"field":"y","type":"quantitative","axis":{"orient":"left","values":[-0.3,-0.2,-0.1,0.1,0.2,0.3,0.4,0.6,0.7,0.8,0.9,1.1,1.2,1.3,1.4,1.6,1.7,1.8,1.9,2.1,2.2,2.3],"tickSize":-4,"labels":false,"title":null}}}},
{"data":{"values":[{"x":1.45,"y":0.86}]},"mark":{"type":"point","shape":"triangle-up","filled":true,"fill":"#000000","fillOpacity":1,"strokeWidth":0,"size":75,"angle":241},"encoding":{"x":{"field":"x","type":"quantitative","axis":{"orient":"top","values":[0.1,0.2,0.3,0.4,0.6,0.7,0.8,0.9,1.1,1.2,1.3,1.4,1.6,1.7,1.8,1.9,2.1,2.2,2.3],"tickSize":-3,"labels":false,"title":null}},"y":{"field":"y","type":"quantitative","axis":{"orient":"right","values":[-0.3,-0.2,-0.1,0.1,0.2,0.3,0.4,0.6,0.7,0.8,0.9,1.1,1.2,1.3,1.4,1.6,1.7,1.8,1.9,2.1,2.2,2.3],"tickSize":-4,"labels":false,"title":null}}}},
{"data":{"values":[{"x":1.28,"x2":1.44,"y":0.75}]},"mark":{"type":"rule","stroke":"#ff2020","strokeWidth":1.2},"encoding":{"x":{"field":"x","type":"quantitative","axis":null},"x2":{"field":"x2"},"y":{"field":"y","type":"quantitative","axis":null}}},
{"data":{"values":[{"x":1.28,"y":0.75},{"x":1.44,"y":0.75}]},"mark":{"type":"tick","orient":"vertical","color":"#ff2020","size":7,"thickness":1.2},"encoding":{"x":{"field":"x","type":"quantitative","axis":null},"y":{"field":"y","type":"quantitative","axis":null}}},
{"data":{"values":[{"x":1.36,"y":0.75}]},"mark":{"type":"point","shape":"square","filled":true,"fill":"#ff0000","fillOpacity":1,"stroke":"#000000","strokeWidth":1,"size":125},"encoding":{"x":{"field":"x","type":"quantitative","axis":null},"y":{"field":"y","type":"quantitative","axis":null}}},
{"data":{"values":[{"t":"Targets w. S/N","x":0.12,"y":2.03},{"t":"< 2","x":0.74,"y":2.03}]},"mark":{"type":"text","align":"left","baseline":"middle","font":"Liberation Sans","fontSize":15.5,"color":"#222222"},"encoding":{"x":{"field":"x","type":"quantitative","axis":null},"y":{"field":"y","type":"quantitative","axis":null},"text":{"field":"t"}}},
{"data":{"values":[{"t":"µ","x":0.68,"y":1.985}]},"mark":{"type":"text","align":"left","baseline":"middle","font":"Liberation Sans","fontSize":9,"color":"#222222"},"encoding":{"x":{"field":"x","type":"quantitative","axis":null},"y":{"field":"y","type":"quantitative","axis":null},"text":{"field":"t"}}},
{"data":{"values":[{"t":"u–g > 1, r–z > 0.5","x":0.205,"y":1.87}]},"mark":{"type":"text","align":"left","baseline":"middle","font":"Liberation Sans","fontSize":13.6,"color":"#222222"},"encoding":{"x":{"field":"x","type":"quantitative","axis":null},"y":{"field":"y","type":"quantitative","axis":null},"text":{"field":"t"}}},
{"data":{"values":[{"t":"GQ1218+0832","x":1.986,"y":1.335}]},"mark":{"type":"text","align":"center","baseline":"middle","font":"Liberation Sans","fontSize":12.5,"color":"#222222"},"encoding":{"x":{"field":"x","type":"quantitative","axis":null},"y":{"field":"y","type":"quantitative","axis":null},"text":{"field":"t"}}}
]},
{"width":418,"height":299.5,"resolve":{"axis":{"x":"independent","y":"independent"}},"layer":[
{"data":{"name":"botCont"},"mark":{"type":"line","stroke":"#000000","strokeWidth":1.4,"clip":true},"encoding":{"x":{"field":"x","type":"quantitative","scale":{"domain":[0,2.348],"nice":false,"zero":false},"axis":{"orient":"bottom","values":[0,0.5,1,1.5,2],"tickSize":-6,"labelPadding":13,"format":".1f","title":"J – K\u00a0\u00a0[Vega mag]","titlePadding":3.5}},"y":{"field":"y","type":"quantitative","scale":{"domain":[-0.84,2.145],"nice":false,"zero":false},"axis":{"orient":"left","values":[-0.5,0,0.5,1,1.5,2],"tickSize":-8,"labelPadding":12,"labelExpr":"replace(format(datum.value,'.1f'),'-','−')","title":"W1 – W2\u00a0\u00a0[Vega mag]","minExtent":40,"maxExtent":40,"titlePadding":3.5}},"detail":{"field":"c"},"order":{"value":null}}},
{"data":{"name":"botPts"},"mark":{"type":"point","shape":"circle","filled":true,"fill":"#1e88f0","fillOpacity":1,"stroke":"#0c2a4a","strokeWidth":1,"size":36},"encoding":{"x":{"field":"x","type":"quantitative","axis":{"orient":"top","values":[0,0.5,1,1.5,2],"tickSize":-6,"labels":false,"title":null}},"y":{"field":"y","type":"quantitative","axis":{"orient":"right","values":[-0.5,0,0.5,1,1.5,2],"tickSize":-8,"labels":false,"title":null}}}},
{"data":{"values":[{"x":0,"y":1.88},{"x":1.935,"y":-0.84}]},"mark":{"type":"line","stroke":"#ff2020","strokeWidth":1.6,"strokeDash":[12,7],"clip":true},"encoding":{"x":{"field":"x","type":"quantitative","axis":null},"y":{"field":"y","type":"quantitative","axis":null}}},
{"data":{"values":[{"x":1.70,"y":1.59},{"x":1.43,"y":1.16}]},"mark":{"type":"line","stroke":"#000000","strokeWidth":2},"encoding":{"x":{"field":"x","type":"quantitative","axis":{"orient":"bottom","values":[0.1,0.2,0.3,0.4,0.6,0.7,0.8,0.9,1.1,1.2,1.3,1.4,1.6,1.7,1.8,1.9,2.1,2.2,2.3],"tickSize":-3,"labels":false,"title":null}},"y":{"field":"y","type":"quantitative","axis":{"orient":"left","values":[-0.8,-0.7,-0.6,-0.4,-0.3,-0.2,-0.1,0.1,0.2,0.3,0.4,0.6,0.7,0.8,0.9,1.1,1.2,1.3,1.4,1.6,1.7,1.8,1.9,2.1],"tickSize":-4,"labels":false,"title":null}}}},
{"data":{"values":[{"x":1.43,"y":1.16}]},"mark":{"type":"point","shape":"triangle-up","filled":true,"fill":"#000000","fillOpacity":1,"strokeWidth":0,"size":75,"angle":228},"encoding":{"x":{"field":"x","type":"quantitative","axis":{"orient":"top","values":[0.1,0.2,0.3,0.4,0.6,0.7,0.8,0.9,1.1,1.2,1.3,1.4,1.6,1.7,1.8,1.9,2.1,2.2,2.3],"tickSize":-3,"labels":false,"title":null}},"y":{"field":"y","type":"quantitative","axis":{"orient":"right","values":[-0.8,-0.7,-0.6,-0.4,-0.3,-0.2,-0.1,0.1,0.2,0.3,0.4,0.6,0.7,0.8,0.9,1.1,1.2,1.3,1.4,1.6,1.7,1.8,1.9,2.1],"tickSize":-4,"labels":false,"title":null}}}},
{"data":{"values":[{"x":1.28,"x2":1.435,"y":1.07}]},"mark":{"type":"rule","stroke":"#ff2020","strokeWidth":1.2},"encoding":{"x":{"field":"x","type":"quantitative","axis":null},"x2":{"field":"x2"},"y":{"field":"y","type":"quantitative","axis":null}}},
{"data":{"values":[{"x":1.35,"y":0.945,"y2":1.18}]},"mark":{"type":"rule","stroke":"#ff2020","strokeWidth":1.2},"encoding":{"x":{"field":"x","type":"quantitative","axis":null},"y":{"field":"y","type":"quantitative","axis":null},"y2":{"field":"y2"}}},
{"data":{"values":[{"x":1.28,"y":1.07},{"x":1.435,"y":1.07}]},"mark":{"type":"tick","orient":"vertical","color":"#ff2020","size":7,"thickness":1.2},"encoding":{"x":{"field":"x","type":"quantitative","axis":null},"y":{"field":"y","type":"quantitative","axis":null}}},
{"data":{"values":[{"x":1.35,"y":0.945},{"x":1.35,"y":1.18}]},"mark":{"type":"tick","orient":"horizontal","color":"#ff2020","size":8,"thickness":1.2},"encoding":{"x":{"field":"x","type":"quantitative","axis":null},"y":{"field":"y","type":"quantitative","axis":null}}},
{"data":{"values":[{"x":1.35,"y":1.07}]},"mark":{"type":"point","shape":"square","filled":true,"fill":"#ff0000","fillOpacity":1,"stroke":"#000000","strokeWidth":1,"size":125},"encoding":{"x":{"field":"x","type":"quantitative","axis":null},"y":{"field":"y","type":"quantitative","axis":null}}},
{"data":{"values":[{"t":"GQ1218+0832","x":1.83,"y":1.69}]},"mark":{"type":"text","align":"center","baseline":"middle","font":"Liberation Sans","fontSize":12.5,"color":"#222222"},"encoding":{"x":{"field":"x","type":"quantitative","axis":null},"y":{"field":"y","type":"quantitative","axis":null},"text":{"field":"t"}}},
{"data":{"values":[{"t":"Quasar candidates","x":1.90,"y":0.05},{"t":"Stellar locus","x":1.335,"y":-0.45}]},"mark":{"type":"text","align":"center","baseline":"middle","font":"Liberation Sans","fontSize":15,"color":"#222222"},"encoding":{"x":{"field":"x","type":"quantitative","axis":null},"y":{"field":"y","type":"quantitative","axis":null},"text":{"field":"t"}}}
]}
]}
